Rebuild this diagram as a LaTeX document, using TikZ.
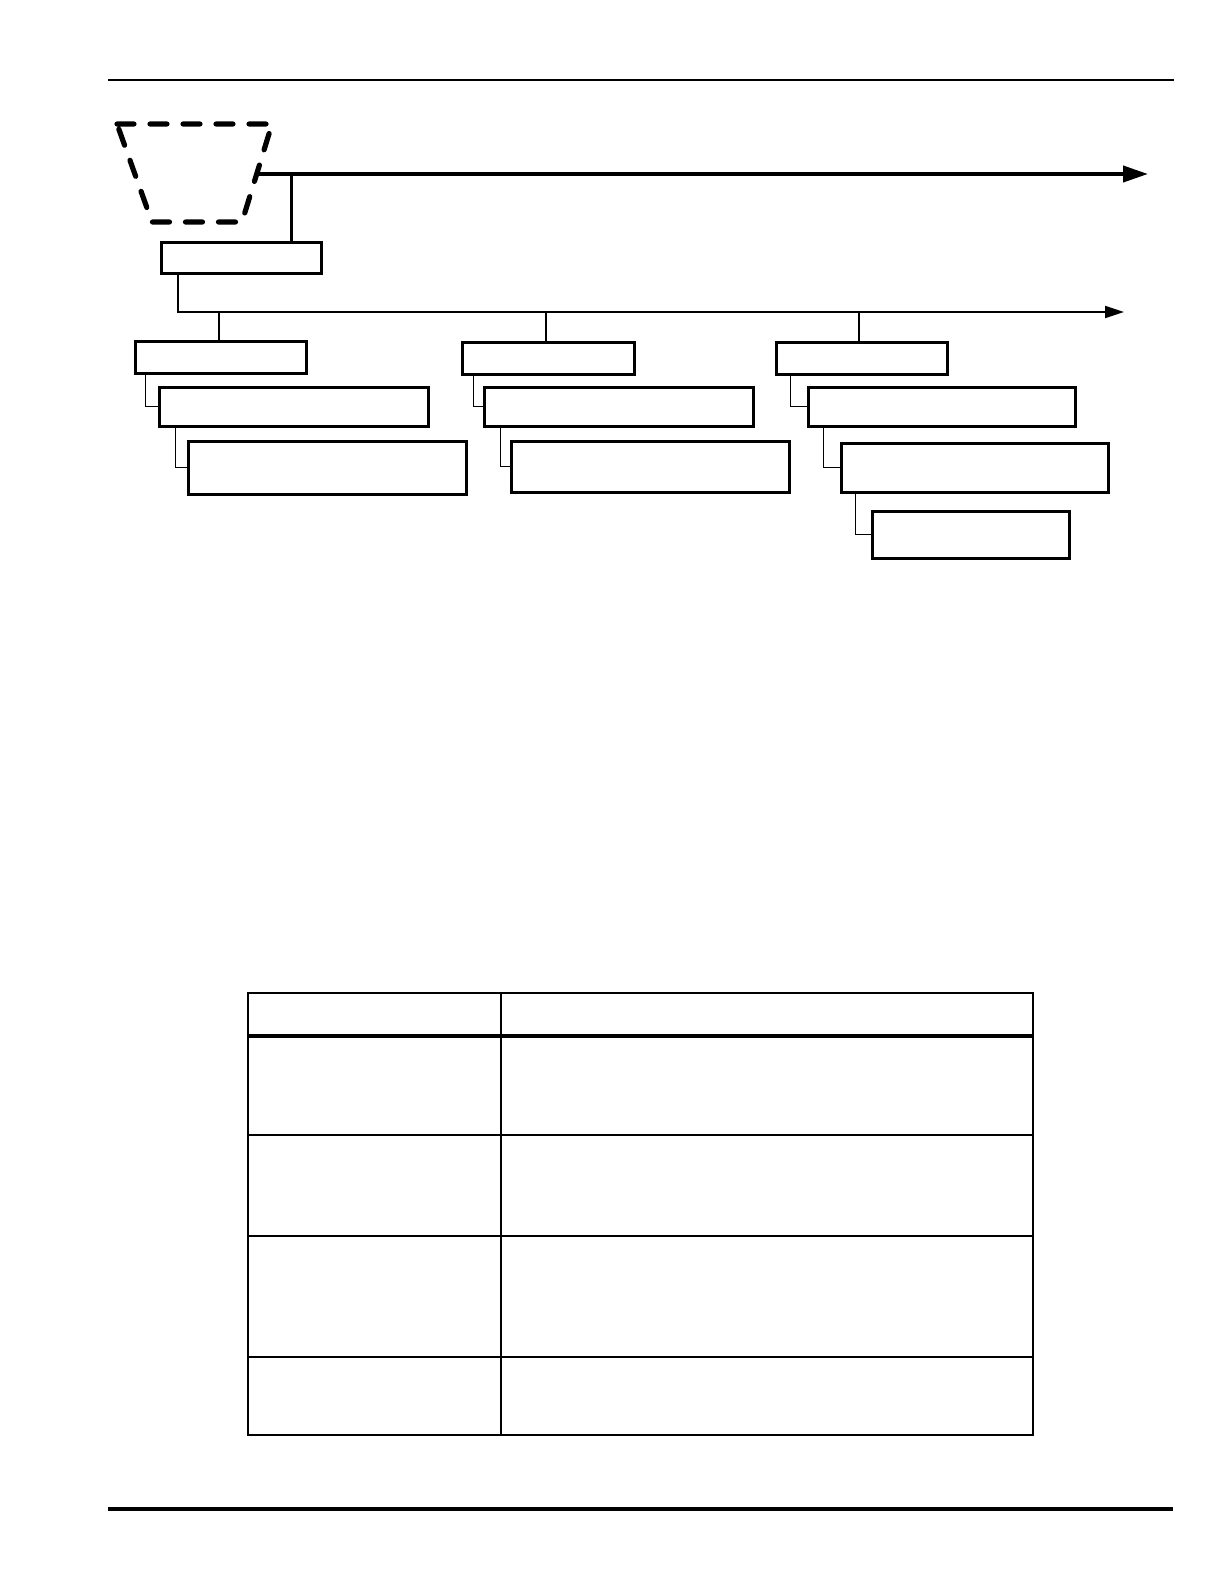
\documentclass[tikz,border=0pt]{standalone}
\usetikzlibrary{arrows.meta,fit}
\begin{document}
\begin{tikzpicture}[x=0.5pt,y=-0.5pt,
  box/.style={draw=black,line width=1.5pt,fill=white,inner sep=0pt,rectangle},
  conn/.style={draw=black,line width=0.8pt},
  bus/.style={draw=black,line width=1pt,-{Triangle[length=9.5pt,width=6pt]}},
  mainline/.style={draw=black,line width=2pt,-{Triangle[length=12.5pt,width=8pt]}},
  dashtrap/.style={draw=black,line width=2.6pt,line cap=round,dash pattern=on 8.5pt off 8pt},
  rule/.style={draw=black},
  tabline/.style={draw=black,line width=0.8pt}]
\useasboundingbox (0,0) rectangle (1224,1584);
% page rules
\draw[rule,line width=1pt] (108,80) -- (1174,80);
\draw[rule,line width=2pt] (108,1509) -- (1173,1509);
% dashed trapezoid
\draw[dashtrap] (117,124) -- (272,124) -- (242,222) -- (152,222) -- cycle;
\coordinate (src) at (257,174);
\coordinate (tipA) at (1148,174);
\coordinate (j1) at (291,174);
\coordinate (tipB) at (1124,312);
% boxes
\node[box,fit={(161,242) (321,273)}] (top) {};
\node[box,fit={(135,341) (306,373)}] (A1) {};
\node[box,fit={(159,387) (428,426)}] (A2) {};
\node[box,fit={(188,441) (466,494)}] (A3) {};
\node[box,fit={(462,342) (634,374)}] (B1) {};
\node[box,fit={(484,387) (753,426)}] (B2) {};
\node[box,fit={(511,441) (789,492)}] (B3) {};
\node[box,fit={(776,342) (947,374)}] (C1) {};
\node[box,fit={(808,387) (1075,426)}] (C2) {};
\node[box,fit={(841,443) (1108,492)}] (C3) {};
\node[box,fit={(872,511) (1069,558)}] (C4) {};
% main arrow
\draw[mainline] (src) -- (tipA);
\draw[draw=black,line width=1.5pt] (j1) -- (j1 |- top.north);
% bus
\draw[bus] (top.south west) ++(18,0) |- (tipB);
\coordinate (dA) at (219,312);
\coordinate (dB) at (546,312);
\coordinate (dC) at (859,312);
\draw[conn] (dA) -- (dA |- A1.north);
\draw[conn] (dB) -- (dB |- B1.north);
\draw[conn] (dC) -- (dC |- C1.north);
% tree connectors
\draw[conn] (A1.south west) ++(12,0) |- (A2.west);
\draw[conn] (A2.south west) ++(18,0) |- (A3.west);
\draw[conn] (B1.south west) ++(13,0) |- (B2.west);
\draw[conn] (B2.south west) ++(18,0) |- (B3.west);
\draw[conn] (C1.south west) ++(16,0) |- (C2.west);
\draw[conn] (C2.south west) ++(17,0) |- (C3.west);
\draw[conn] (C3.south west) ++(16,0) |- (C4.west);
% table
\draw[tabline] (248,993) rectangle (1033,1435);
\draw[tabline] (501,993) -- (501,1435);
\draw[draw=black,line width=2pt] (248,1036) -- (1033,1036);
\draw[tabline] (248,1135) -- (1033,1135);
\draw[tabline] (248,1236) -- (1033,1236);
\draw[tabline] (248,1357) -- (1033,1357);
\end{tikzpicture}
\end{document}
